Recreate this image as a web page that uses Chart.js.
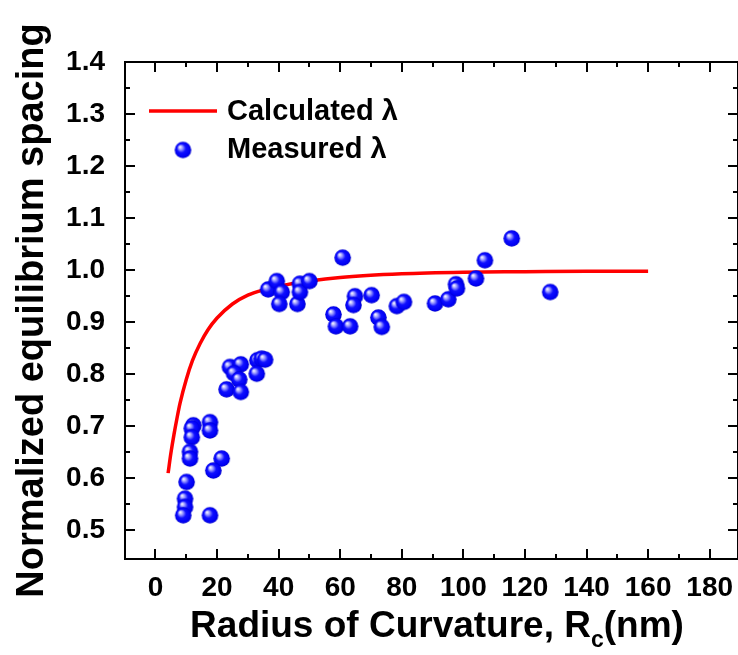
<!DOCTYPE html>
<html>
<head>
<meta charset="utf-8">
<script src="https://cdn.jsdelivr.net/npm/chart.js@4.4.1/dist/chart.umd.min.js"></script>
<style>
  html, body { margin: 0; padding: 0; background: #fff; overflow: hidden; }
  canvas { display: block; }
</style>
</head>
<body>
<canvas id="c" width="738" height="655"></canvas>
<script>
// Measured equilibrium spacing vs. radius of curvature (nm)
const radiusMeasured = [12.3, 11.8, 11.8, 17.7, 17.7, 11.2, 11.2, 21.5, 18.8, 10.1, 9.6, 9.6, 9.0, 17.7,
  24.2, 27.7, 25.5, 27.2, 23.1, 27.7, 33.1, 34.5, 35.6, 32.9,
  60.8, 36.6, 39.4, 41.0, 40.2, 46.1, 46.9, 46.9, 50.0, 57.8, 58.6, 63.2, 64.8, 64.3, 70.2, 72.4, 73.5,
  78.4, 80.7, 90.8, 95.1, 97.6, 97.9, 104.1, 107.0, 115.7, 128.2];
const lambdaMeasured = [0.702, 0.696, 0.679, 0.708, 0.692, 0.651, 0.638, 0.638, 0.615, 0.593, 0.561, 0.545, 0.529, 0.529,
  0.814, 0.819, 0.802, 0.790, 0.771, 0.766, 0.827, 0.830, 0.828, 0.801,
  1.024, 0.963, 0.979, 0.958, 0.935, 0.935, 0.974, 0.958, 0.979, 0.915, 0.892, 0.892, 0.950, 0.933, 0.952, 0.909, 0.891,
  0.931, 0.939, 0.936, 0.944, 0.973, 0.965, 0.984, 1.019, 1.061, 0.958];

// Calculated curve
const radiusCalc = [4.1, 5, 6, 7, 8, 10, 12, 14.5, 17, 20, 25, 30, 35, 40, 50, 60, 80, 100, 120, 140, 160];
const lambdaCalc = [0.61, 0.648, 0.684, 0.716, 0.745, 0.79, 0.826, 0.859, 0.885, 0.908, 0.935, 0.952, 0.962, 0.969, 0.979, 0.986, 0.993, 0.996, 0.997, 0.998, 0.998];

// Axis ticks
const xTickValues = [0, 20, 40, 60, 80, 100, 120, 140, 160, 180];
const xMinorTicks = [10, 30, 50, 70, 90, 110, 130, 150, 170];
const yTickValues = [0.5, 0.6, 0.7, 0.8, 0.9, 1.0, 1.1, 1.2, 1.3, 1.4];
const yMinorTicks = [0.55, 0.65, 0.75, 0.85, 0.95, 1.05, 1.15, 1.25, 1.35];

const FONT = "'Liberation Sans', Arial, Helvetica, sans-serif";

// Shaded sphere marker
function makeBall(r) {
  const s = Math.ceil(2 * r + 2);
  const c = document.createElement('canvas');
  c.width = s; c.height = s;
  const g = c.getContext('2d');
  const cx = s / 2, cy = s / 2;
  const grad = g.createRadialGradient(cx - r * 0.38, cy - r * 0.38, r * 0.05, cx, cy, r);
  grad.addColorStop(0, '#f6f6ff');
  grad.addColorStop(0.22, '#9a9aff');
  grad.addColorStop(0.5, '#1010ff');
  grad.addColorStop(0.85, '#0000f5');
  grad.addColorStop(1, '#0000c8');
  g.fillStyle = grad;
  g.beginPath();
  g.arc(cx, cy, r, 0, Math.PI * 2);
  g.fill();
  return c;
}
const ball = makeBall(8.3);

const framePlugin = {
  id: 'frame',
  afterDraw(chart) {
    const { ctx, chartArea: a, scales: { x, y } } = chart;
    ctx.save();
    ctx.strokeStyle = '#000';
    ctx.lineWidth = 2;
    ctx.strokeRect(a.left, a.top, a.right - a.left, a.bottom - a.top);
    ctx.beginPath();
    const xt = (vals, len) => vals.forEach(v => {
      const p = Math.round(x.getPixelForValue(v));
      ctx.moveTo(p, a.bottom); ctx.lineTo(p, a.bottom - len);
      ctx.moveTo(p, a.top); ctx.lineTo(p, a.top + len);
    });
    const yt = (vals, len) => vals.forEach(v => {
      const p = Math.round(y.getPixelForValue(v));
      ctx.moveTo(a.left, p); ctx.lineTo(a.left + len, p);
      ctx.moveTo(a.right, p); ctx.lineTo(a.right - len, p);
    });
    xt(xTickValues, 10); xt(xMinorTicks, 5);
    yt(yTickValues, 10); yt(yMinorTicks, 5);
    ctx.stroke();

    // Axis titles
    ctx.fillStyle = '#000';
    ctx.font = 'bold 38px ' + FONT;
    ctx.save();
    ctx.translate(33, (a.top + a.bottom) / 2);
    ctx.rotate(-Math.PI / 2);
    ctx.textAlign = 'center';
    ctx.textBaseline = 'middle';
    ctx.fillText('Normalized equilibrium spacing', 0, 0);
    ctx.restore();

    const t1 = 'Radius of Curvature, R', t2 = 'c', t3 = '(nm)';
    ctx.font = 'bold 37px ' + FONT;
    const w1 = ctx.measureText(t1).width, w3 = ctx.measureText(t3).width;
    ctx.font = 'bold 23px ' + FONT;
    const w2 = ctx.measureText(t2).width;
    let tx = 437 - (w1 + w2 + w3) / 2;
    const base = 637;
    ctx.textAlign = 'left';
    ctx.textBaseline = 'alphabetic';
    ctx.font = 'bold 37px ' + FONT;
    ctx.fillText(t1, tx, base); tx += w1;
    ctx.font = 'bold 23px ' + FONT;
    ctx.fillText(t2, tx, base + 10); tx += w2;
    ctx.font = 'bold 37px ' + FONT;
    ctx.fillText(t3, tx, base);

    // Legend
    ctx.strokeStyle = '#ff0000';
    ctx.lineWidth = 3.5;
    ctx.beginPath();
    ctx.moveTo(149, 111); ctx.lineTo(217, 111);
    ctx.stroke();
    ctx.drawImage(ball, 183 - ball.width / 2, 150 - ball.height / 2);
    ctx.font = 'bold 29px ' + FONT;
    ctx.textBaseline = 'middle';
    ctx.fillStyle = '#000';
    ctx.fillText('Calculated \u03bb', 227, 112);
    ctx.fillText('Measured \u03bb', 227, 150);
    ctx.restore();
  }
};

const tickFont = { family: FONT, size: 28, weight: 'bold' };

new Chart(document.getElementById('c'), {
  type: 'scatter',
  data: {
    datasets: [
      {
        label: 'Measured \u03bb',
        data: radiusMeasured.map((r, i) => ({ x: r, y: lambdaMeasured[i] })),
        pointStyle: ball,
        pointRadius: 8,
        order: 0
      },
      {
        type: 'line',
        label: 'Calculated \u03bb',
        data: radiusCalc.map((r, i) => ({ x: r, y: lambdaCalc[i] })),
        borderColor: '#ff0000',
        borderWidth: 3.5,
        pointRadius: 0,
        fill: false,
        showLine: true,
        cubicInterpolationMode: 'monotone',
        order: 1
      }
    ]
  },
  options: {
    responsive: false,
    animation: false,
    events: [],
    layout: { autoPadding: false, padding: { top: 62, right: 0, left: 0, bottom: 0 } },
    plugins: { legend: { display: false }, tooltip: { enabled: false } },
    scales: {
      x: {
        type: 'linear',
        min: -9.9, max: 189.2,
        grid: { display: false },
        border: { display: false },
        ticks: { font: tickFont, color: '#000', padding: 4, maxRotation: 0, autoSkip: false,
                 callback: v => String(v) },
        afterBuildTicks: s => { s.ticks = xTickValues.map(v => ({ value: v })); },
        afterFit: s => { s.height = 96; s.paddingLeft = 0; s.paddingRight = 0; }
      },
      y: {
        type: 'linear',
        min: 0.445, max: 1.4,
        grid: { display: false },
        border: { display: false },
        ticks: { font: tickFont, color: '#000', padding: 12, autoSkip: false,
                 callback: v => Number(v).toFixed(1) },
        afterBuildTicks: s => { s.ticks = yTickValues.map(v => ({ value: v })); },
        afterFit: s => { s.width = 125; s.paddingTop = 0; s.paddingBottom = 0; }
      }
    }
  },
  plugins: [framePlugin]
});
</script>
</body>
</html>
